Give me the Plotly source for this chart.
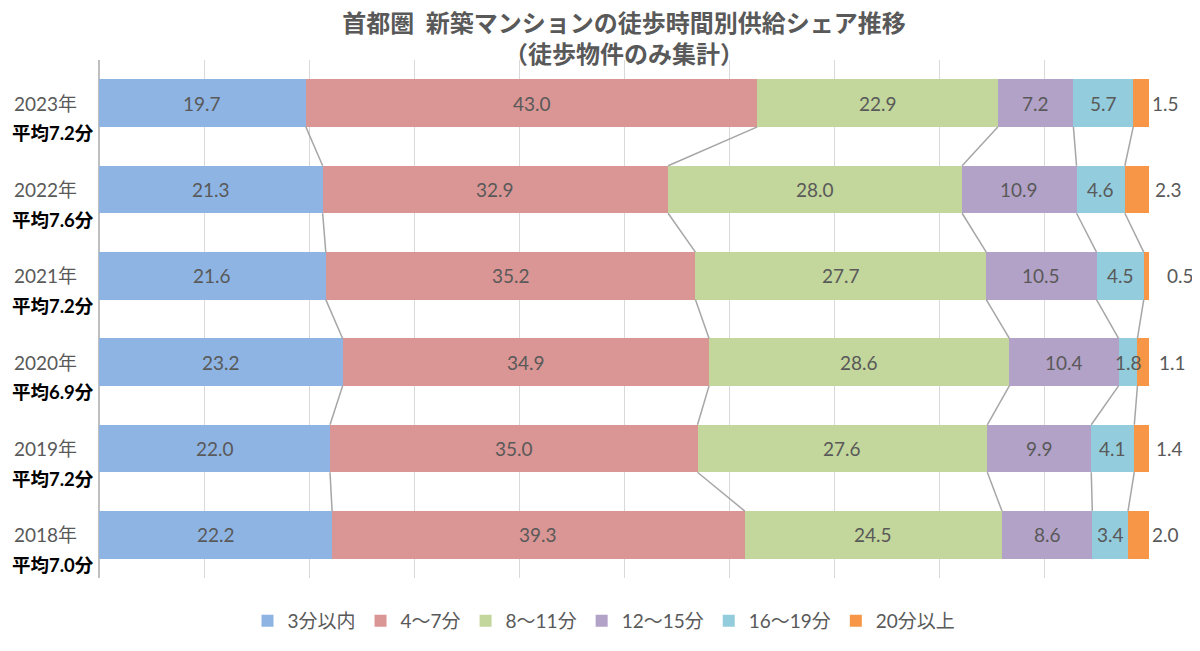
import plotly.graph_objects as go

# data
years = ["2023年", "2022年", "2021年", "2020年", "2019年", "2018年"]
averages = ["平均7.2分", "平均7.6分", "平均7.2分", "平均6.9分", "平均7.2分", "平均7.0分"]
series_names = ["3分以内", "4〜7分", "8〜11分", "12〜15分", "16〜19分", "20分以上"]
within_3 = [19.7, 21.3, 21.6, 23.2, 22.0, 22.2]
min_4_7 = [43.0, 32.9, 35.2, 34.9, 35.0, 39.3]
min_8_11 = [22.9, 28.0, 27.7, 28.6, 27.6, 24.5]
min_12_15 = [7.2, 10.9, 10.5, 10.4, 9.9, 8.6]
min_16_19 = [5.7, 4.6, 4.5, 1.8, 4.1, 3.4]
over_20 = [1.5, 2.3, 0.5, 1.1, 1.4, 2.0]

series = [within_3, min_4_7, min_8_11, min_12_15, min_16_19, over_20]
colors = ["#8EB4E3", "#D99694", "#C3D69B", "#B3A2C7", "#93CDDD", "#F79646"]

FONT = "Lato, 'Noto Sans CJK JP', sans-serif"
GREY = "#595959"
BAR_W = 0.55

# the page body has an 8px margin, so the figure is sized to fit the window
W, H = 1192, 643

n = len(years)
ypos = [n - 1 - i for i in range(n)]  # 2023 at top

fig = go.Figure()

for name, vals, col in zip(series_names, series, colors):
    fig.add_trace(go.Bar(
        y=ypos, x=vals, name=name, orientation="h", width=BAR_W,
        marker=dict(color=col, line=dict(width=0)),
        textposition="none", hoverinfo="x+name",
    ))

# series lines between adjacent bars
cums = []
for i in range(n):
    c, acc = [], 0.0
    for s in series:
        acc += s[i]
        c.append(acc)
    cums.append(c)

lx, ly = [], []
for i in range(n - 1):
    for k in range(len(series) - 1):
        lx += [cums[i][k], cums[i + 1][k], None]
        ly += [ypos[i] - BAR_W / 2, ypos[i + 1] + BAR_W / 2, None]
fig.add_trace(go.Scatter(x=lx, y=ly, mode="lines", showlegend=False,
                         line=dict(color="#A6A6A6", width=1.5), hoverinfo="skip"))

annotations = []
# value labels
outside_shift = [1, 4, 16, 8, 5, 1]
for i in range(n):
    start = 0.0
    for k, s in enumerate(series):
        v = s[i]
        if k == len(series) - 1:
            annotations.append(dict(x=100, y=ypos[i], xref="x", yref="y", text=f"{v:.1f}",
                                    showarrow=False, xanchor="left", xshift=outside_shift[i],
                                    font=dict(family=FONT, size=19, color=GREY)))
        else:
            annotations.append(dict(x=start + v / 2, y=ypos[i], xref="x", yref="y",
                                    text=f"{v:.1f}", showarrow=False,
                                    font=dict(family=FONT, size=19, color=GREY)))
        start += v

# category labels
for i in range(n):
    annotations.append(dict(x=-0.0514, y=ypos[i], xref="paper", yref="y", text=years[i],
                            showarrow=False, xanchor="center",
                            font=dict(family=FONT, size=19, color=GREY)))
    annotations.append(dict(x=-0.0435, y=ypos[i], xref="paper", yref="y", yshift=-30,
                            text=f"<b>{averages[i]}</b>", showarrow=False, xanchor="center",
                            font=dict(family=FONT, size=18.5, color="black")))

fig.update_layout(
    width=W, height=H,
    margin=dict(l=91, r=51, t=52, b=73),
    barmode="stack",
    plot_bgcolor="white", paper_bgcolor="white",
    title=dict(text="<b>首都圏  新築マンションの徒歩時間別供給シェア推移<br>（徒歩物件のみ集計）</b>",
               x=0.5, xanchor="center", xref="paper", y=1 - 24 / H, yanchor="middle",
               yref="container",
               font=dict(family=FONT, size=24, color=GREY)),
    xaxis=dict(range=[0, 100], dtick=10, showticklabels=False, showgrid=True,
               gridcolor="#D9D9D9", gridwidth=1, zeroline=True, zerolinecolor="#BFBFBF",
               fixedrange=True),
    yaxis=dict(range=[-0.5, n - 0.5], showticklabels=False, showgrid=False,
               zeroline=False, fixedrange=True),
    legend=dict(orientation="h", x=0.5, xanchor="center", xref="container",
                y=30 / H, yanchor="middle", yref="container",
                font=dict(family=FONT, size=19, color=GREY),
                traceorder="normal", itemwidth=30),
    annotations=annotations,
    showlegend=True,
)

fig.write_html("out.html")
